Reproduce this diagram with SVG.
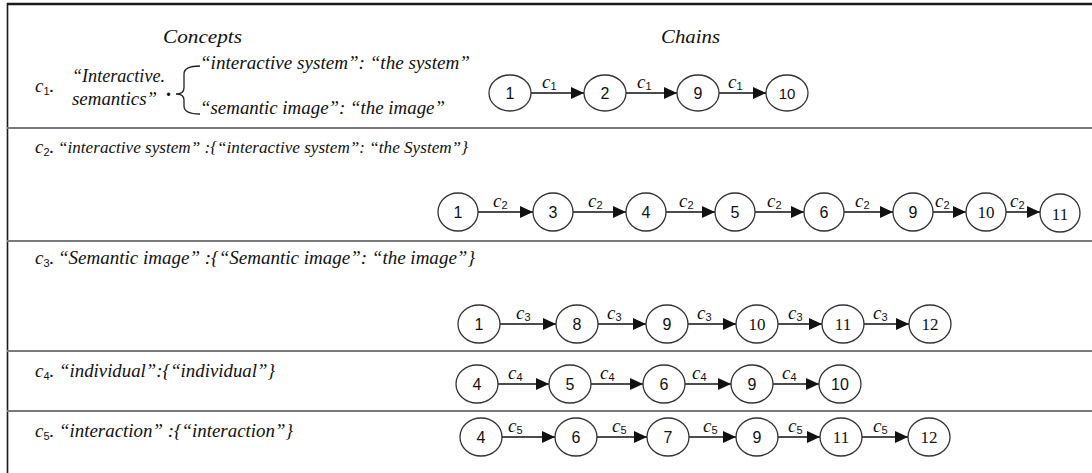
<svg xmlns="http://www.w3.org/2000/svg" width="1092" height="473" viewBox="0 0 1092 473">
<style>
.frame{stroke:#1a1a1a;fill:none}
.sep{stroke:#7a7a7a;stroke-width:2;fill:none}
.it{font-family:"Liberation Serif",serif;font-style:italic;font-size:18px;fill:#111}
.ci{font-family:"Liberation Serif",serif;font-style:italic;font-size:19px;fill:#111}
.hd{font-family:"Liberation Serif",serif;font-style:italic;font-size:19px;fill:#111}
.node ellipse{fill:#fff;stroke:#333;stroke-width:1.3}
.node text{font-family:"Liberation Sans",sans-serif;font-size:16px;fill:#111;text-anchor:middle}
.node text.s{font-family:"Liberation Serif",serif;font-size:17px}
.edge line{stroke:#111;stroke-width:1.4}
.lab{font-family:"Liberation Serif",serif;font-style:italic;font-size:19px;fill:#111}
.sub{font-family:"Liberation Sans",sans-serif;font-style:normal;font-size:11px}
</style>
<defs>
<marker id="arr" markerUnits="userSpaceOnUse" markerWidth="13" markerHeight="12" refX="13" refY="6" orient="auto">
<path d="M0,0 L13,6 L0,12 z" fill="#111"/>
</marker>
</defs>
<rect width="1092" height="473" fill="#fff"/>
<g id="frame">
<line class="frame" x1="7" y1="4" x2="1092" y2="4" stroke-width="2.5"/>
<line class="frame" x1="7.5" y1="3" x2="7.5" y2="473" stroke-width="1.6"/>
<line class="sep" x1="7" y1="128" x2="1092" y2="128"/>
<line class="sep" x1="7" y1="241" x2="1092" y2="241"/>
<line class="sep" x1="7" y1="351" x2="1092" y2="351"/>
<line class="sep" x1="7" y1="411" x2="1092" y2="411"/>
</g>
<g id="headers">
<text class="hd" x="163" y="43" textLength="79" lengthAdjust="spacingAndGlyphs">Concepts</text>
<text class="hd" x="661" y="43" textLength="59" lengthAdjust="spacingAndGlyphs">Chains</text>
</g>
<g id="concepts">
<text class="ci" x="35" y="92">c<tspan class="sub" dy="3">1</tspan><tspan dy="-3">.</tspan></text>
<text class="it" x="72" y="82" textLength="93" lengthAdjust="spacingAndGlyphs">“Interactive.</text>
<text class="it" x="72" y="105" textLength="85" lengthAdjust="spacingAndGlyphs">semantics”</text>
<text class="it" x="166" y="96" style="font-size:20px;font-style:normal;font-weight:bold">.</text>
<path d="M200,66 Q184,66 184,74 L184,88 Q184,94 176,94 Q184,94 184,100 L184,106 Q184,114 200,114" fill="none" stroke="#222" stroke-width="1.3"/>
<text class="it" x="200" y="69" textLength="270" lengthAdjust="spacingAndGlyphs">“interactive system”: “the system”</text>
<text class="it" x="200" y="114" textLength="245" lengthAdjust="spacingAndGlyphs">“semantic image”: “the image”</text>
<text class="ci" x="35" y="153">c<tspan class="sub" dy="3">2</tspan><tspan dy="-3">.</tspan></text>
<text class="it" x="58" y="153" style="font-size:17px" textLength="410" lengthAdjust="spacingAndGlyphs">“interactive system” :{“interactive system”: “the System”}</text>
<text class="ci" x="35" y="264">c<tspan class="sub" dy="3">3</tspan><tspan dy="-3">.</tspan></text>
<text class="it" x="58" y="264" textLength="417" lengthAdjust="spacingAndGlyphs">“Semantic image” :{“Semantic image”: “the image”}</text>
<text class="ci" x="35" y="377">c<tspan class="sub" dy="3">4</tspan><tspan dy="-3">.</tspan></text>
<text class="it" x="59" y="377" textLength="216" lengthAdjust="spacingAndGlyphs">“individual”:{“individual”}</text>
<text class="ci" x="35" y="437">c<tspan class="sub" dy="3">5</tspan><tspan dy="-3">.</tspan></text>
<text class="it" x="59" y="437" textLength="234" lengthAdjust="spacingAndGlyphs">“interaction” :{“interaction”}</text>
</g>
<g id="connectors" class="edge">
<line x1="531" y1="93" x2="584" y2="93" marker-end="url(#arr)"/>
<line x1="626" y1="93" x2="677" y2="93" marker-end="url(#arr)"/>
<line x1="719" y1="93" x2="766" y2="93" marker-end="url(#arr)"/>
<line x1="478" y1="212" x2="533" y2="212" marker-end="url(#arr)"/>
<line x1="573" y1="212" x2="626" y2="212" marker-end="url(#arr)"/>
<line x1="666" y1="212" x2="715" y2="212" marker-end="url(#arr)"/>
<line x1="755" y1="212" x2="804" y2="212" marker-end="url(#arr)"/>
<line x1="844" y1="212" x2="893" y2="212" marker-end="url(#arr)"/>
<line x1="933" y1="212" x2="966" y2="212" marker-end="url(#arr)"/>
<line x1="1006" y1="212" x2="1040" y2="212" marker-end="url(#arr)"/>
<line x1="500" y1="324" x2="556" y2="324" marker-end="url(#arr)"/>
<line x1="598" y1="324" x2="646" y2="324" marker-end="url(#arr)"/>
<line x1="688" y1="324" x2="736" y2="324" marker-end="url(#arr)"/>
<line x1="778" y1="324" x2="822" y2="324" marker-end="url(#arr)"/>
<line x1="864" y1="324" x2="909" y2="324" marker-end="url(#arr)"/>
<line x1="498" y1="384" x2="549" y2="384" marker-end="url(#arr)"/>
<line x1="591" y1="384" x2="643" y2="384" marker-end="url(#arr)"/>
<line x1="685" y1="384" x2="731" y2="384" marker-end="url(#arr)"/>
<line x1="773" y1="384" x2="819" y2="384" marker-end="url(#arr)"/>
<line x1="502" y1="437" x2="555" y2="437" marker-end="url(#arr)"/>
<line x1="597" y1="437" x2="647" y2="437" marker-end="url(#arr)"/>
<line x1="689" y1="437" x2="736" y2="437" marker-end="url(#arr)"/>
<line x1="778" y1="437" x2="820" y2="437" marker-end="url(#arr)"/>
<line x1="862" y1="437" x2="908" y2="437" marker-end="url(#arr)"/>
</g>
<g id="edge-labels">
<text class="lab" x="542" y="88">c<tspan class="sub" dy="2">1</tspan></text>
<text class="lab" x="637" y="88">c<tspan class="sub" dy="2">1</tspan></text>
<text class="lab" x="728" y="88">c<tspan class="sub" dy="2">1</tspan></text>
<text class="lab" x="493" y="207">c<tspan class="sub" dy="2">2</tspan></text>
<text class="lab" x="588" y="207">c<tspan class="sub" dy="2">2</tspan></text>
<text class="lab" x="679" y="207">c<tspan class="sub" dy="2">2</tspan></text>
<text class="lab" x="767" y="207">c<tspan class="sub" dy="2">2</tspan></text>
<text class="lab" x="855" y="207">c<tspan class="sub" dy="2">2</tspan></text>
<text class="lab" x="935" y="207">c<tspan class="sub" dy="2">2</tspan></text>
<text class="lab" x="1010" y="207">c<tspan class="sub" dy="2">2</tspan></text>
<text class="lab" x="516" y="319">c<tspan class="sub" dy="2">3</tspan></text>
<text class="lab" x="607" y="319">c<tspan class="sub" dy="2">3</tspan></text>
<text class="lab" x="697" y="319">c<tspan class="sub" dy="2">3</tspan></text>
<text class="lab" x="788" y="319">c<tspan class="sub" dy="2">3</tspan></text>
<text class="lab" x="873" y="319">c<tspan class="sub" dy="2">3</tspan></text>
<text class="lab" x="508" y="379">c<tspan class="sub" dy="2">4</tspan></text>
<text class="lab" x="600" y="379">c<tspan class="sub" dy="2">4</tspan></text>
<text class="lab" x="692" y="379">c<tspan class="sub" dy="2">4</tspan></text>
<text class="lab" x="782" y="379">c<tspan class="sub" dy="2">4</tspan></text>
<text class="lab" x="508" y="432">c<tspan class="sub" dy="2">5</tspan></text>
<text class="lab" x="612" y="432">c<tspan class="sub" dy="2">5</tspan></text>
<text class="lab" x="703" y="432">c<tspan class="sub" dy="2">5</tspan></text>
<text class="lab" x="788" y="432">c<tspan class="sub" dy="2">5</tspan></text>
<text class="lab" x="873" y="432">c<tspan class="sub" dy="2">5</tspan></text>
</g>
<g id="row1-nodes">
<g id="r1n1" class="node"><ellipse cx="510" cy="93" rx="21" ry="18"/><text x="510" y="99">1</text></g>
<g id="r1n2" class="node"><ellipse cx="605" cy="93" rx="21" ry="18"/><text x="605" y="99">2</text></g>
<g id="r1n9" class="node"><ellipse cx="698" cy="93" rx="21" ry="18"/><text x="698" y="99">9</text></g>
<g id="r1n10" class="node"><ellipse cx="787" cy="93" rx="21" ry="18"/><text x="787" y="99" style="font-size:15px">10</text></g>
</g>
<g id="row2-nodes">
<g id="r2n1" class="node"><ellipse cx="458" cy="212" rx="20" ry="19"/><text x="458" y="218">1</text></g>
<g id="r2n3" class="node"><ellipse cx="553" cy="212" rx="20" ry="19"/><text x="553" y="218">3</text></g>
<g id="r2n4" class="node"><ellipse cx="646" cy="212" rx="20" ry="19"/><text x="646" y="218">4</text></g>
<g id="r2n5" class="node"><ellipse cx="735" cy="212" rx="20" ry="19"/><text x="735" y="218">5</text></g>
<g id="r2n6" class="node"><ellipse cx="824" cy="212" rx="20" ry="19"/><text x="824" y="218">6</text></g>
<g id="r2n9" class="node"><ellipse cx="913" cy="212" rx="20" ry="19"/><text x="913" y="218">9</text></g>
<g id="r2n10" class="node"><ellipse cx="986" cy="212" rx="20" ry="19"/><text class="s" x="986" y="218">10</text></g>
<g id="r2n11" class="node"><ellipse cx="1060" cy="213" rx="20" ry="19"/><text class="s" x="1060" y="220">11</text></g>
</g>
<g id="row3-nodes">
<g id="r3n1" class="node"><ellipse cx="479" cy="324" rx="21" ry="19"/><text x="479" y="330">1</text></g>
<g id="r3n8" class="node"><ellipse cx="577" cy="324" rx="21" ry="19"/><text x="577" y="330">8</text></g>
<g id="r3n9" class="node"><ellipse cx="667" cy="324" rx="21" ry="19"/><text x="667" y="330">9</text></g>
<g id="r3n10" class="node"><ellipse cx="757" cy="324" rx="21" ry="19"/><text class="s" x="757" y="330">10</text></g>
<g id="r3n11" class="node"><ellipse cx="843" cy="324" rx="21" ry="19"/><text class="s" x="843" y="330">11</text></g>
<g id="r3n12" class="node"><ellipse cx="930" cy="324" rx="21" ry="19"/><text class="s" x="930" y="330">12</text></g>
</g>
<g id="row4-nodes">
<g id="r4n4" class="node"><ellipse cx="477" cy="384" rx="21" ry="19"/><text x="477" y="390">4</text></g>
<g id="r4n5" class="node"><ellipse cx="570" cy="384" rx="21" ry="19"/><text x="570" y="390">5</text></g>
<g id="r4n6" class="node"><ellipse cx="664" cy="384" rx="21" ry="19"/><text x="664" y="390">6</text></g>
<g id="r4n9" class="node"><ellipse cx="752" cy="384" rx="21" ry="19"/><text x="752" y="390">9</text></g>
<g id="r4n10" class="node"><ellipse cx="840" cy="384" rx="21" ry="19"/><text x="840" y="390">10</text></g>
</g>
<g id="row5-nodes">
<g id="r5n4" class="node"><ellipse cx="481" cy="437" rx="21" ry="19"/><text x="481" y="443">4</text></g>
<g id="r5n6" class="node"><ellipse cx="576" cy="437" rx="21" ry="19"/><text x="576" y="443">6</text></g>
<g id="r5n7" class="node"><ellipse cx="668" cy="437" rx="21" ry="19"/><text x="668" y="443">7</text></g>
<g id="r5n9" class="node"><ellipse cx="757" cy="437" rx="21" ry="19"/><text x="757" y="443">9</text></g>
<g id="r5n11" class="node"><ellipse cx="841" cy="437" rx="21" ry="19"/><text class="s" x="841" y="443">11</text></g>
<g id="r5n12" class="node"><ellipse cx="929" cy="437" rx="21" ry="19"/><text class="s" x="929" y="443">12</text></g>
</g>
</svg>
